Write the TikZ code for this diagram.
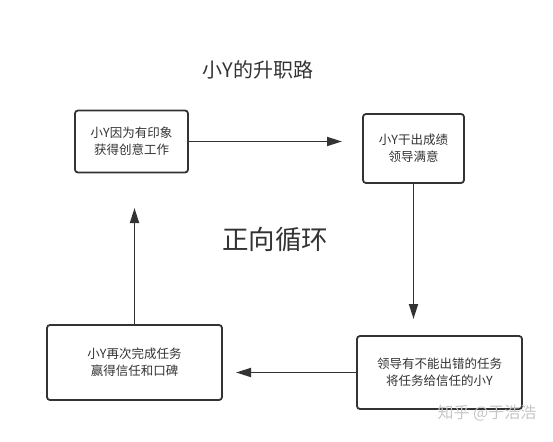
\documentclass[tikz,border=0pt]{standalone}
\usepackage{fontspec}
\setmainfont{Noto Sans CJK SC}
\usetikzlibrary{arrows.meta}
\definecolor{ink}{HTML}{333333}
\tikzset{
  stepbox/.style={draw=ink, line width=1.8pt, rounded corners=3pt, fill=white, align=center,
    inner sep=0pt, font=\fontsize{12.5}{17}\selectfont, text=ink},
  conn/.style={draw=ink, line width=1.8pt, -{Triangle[length=15pt,width=9pt]}},
}
\begin{document}
\begin{tikzpicture}[x=1pt,y=-1pt]
\useasboundingbox (0,0) rectangle (553,441);
\node[font=\fontsize{20}{24}\selectfont, text=ink] (title) at (258,70) {小Y的升职路};
\node[font=\fontsize{26.5}{30}\selectfont, text=ink] (center) at (275,240) {正向循环};
\node[stepbox, minimum width=113pt, minimum height=62pt] (b1) at (131.5,141.5) {小Y因为有印象\\获得创意工作};
\node[stepbox, minimum width=101pt, minimum height=69pt] (b2) at (413.5,148.5) {小Y干出成绩\\领导满意};
\node[stepbox, minimum width=165pt, minimum height=73pt] (b3) at (439.5,372.5) {领导有不能出错的任务\\将任务给信任的小Y};
\node[stepbox, minimum width=175pt, minimum height=75pt] (b4) at (134.5,362.5) {小Y再次完成任务\\赢得信任和口碑};
\coordinate (e1) at (342,141.5);
\coordinate (e2) at (413.5,319);
\coordinate (e3) at (236,372.5);
\coordinate (e4) at (134.5,208);
\draw[conn] (b1.east) -- (e1);
\draw[conn] (b2.south) -- (e2);
\draw[conn] (b3.west) -- (e3);
\draw[conn] (b4.north) -- (e4);
\node[font=\fontsize{16}{18}\selectfont, text=black!22] (wm) at (487,413) {知乎 @于浩浩};
\end{tikzpicture}
\end{document}
